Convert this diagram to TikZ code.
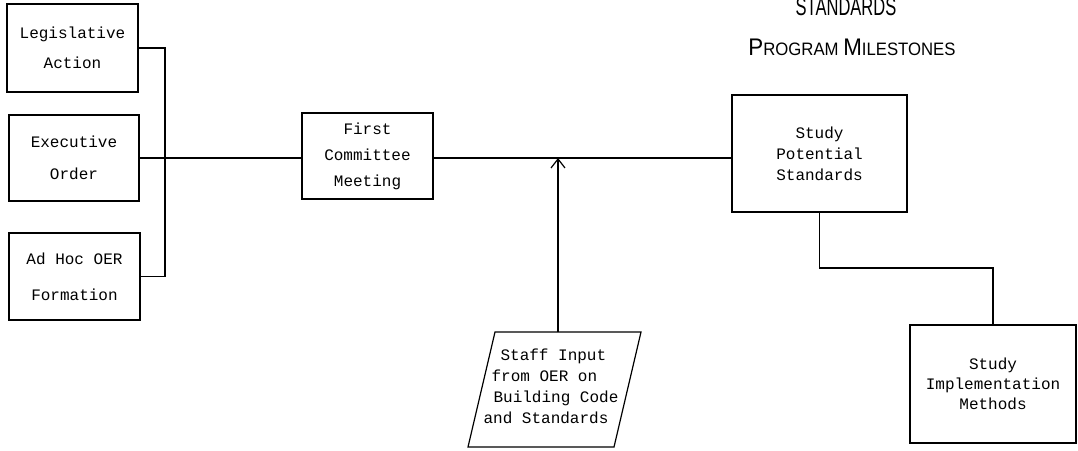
\documentclass[tikz,border=0pt]{standalone}
\usepackage{fontspec}
\setmonofont{Liberation Mono}
\setsansfont{Liberation Sans}
\usetikzlibrary{arrows.meta,calc}

% typewriter text at 16pt with a given leading
\newcommand\monoset[1]{\ttfamily\fontsize{16}{#1}\selectfont}

\tikzset{
  wire/.style={line width=1.2pt, line join=miter},
  box/.style={draw, wire, rectangle, inner sep=0pt, align=center},
  lead/.style={wire, -{Straight Barb[length=9pt,width=14pt,line width=1.2pt]}},
  heading/.style={anchor=base, inner sep=0pt},
}

\begin{document}
\begin{tikzpicture}[x=1pt, y=-1pt]
  \useasboundingbox (0,0) rectangle (1078,450);

  % heading
  \node[heading] (std) at (846,15)
    {\scalebox{0.66}[1]{\sffamily\fontsize{25}{25}\selectfont STANDARDS}};
  \node[heading] (pm) at (852,55)
    {\scalebox{0.93}[1]{\sffamily\fontsize{24}{24}\selectfont P\fontsize{18}{18}\selectfont ROGRAM
     \fontsize{24}{24}\selectfont M\fontsize{18}{18}\selectfont ILESTONES}};

  % sources
  \node[box, minimum width=131pt, minimum height=88pt, font=\monoset{30}]
    (leg) at (72.5,48) {Legislative\\Action};
  \node[box, minimum width=130pt, minimum height=86pt, font=\monoset{32}]
    (exe) at (74,158) {Executive\\Order};
  \node[box, minimum width=131pt, minimum height=87pt, font=\monoset{36}]
    (adhoc) at (74.5,276.5) {Ad Hoc OER\\Formation};

  % milestones
  \node[box, minimum width=131pt, minimum height=86pt, font=\monoset{26}]
    (first) at (367.5,156) {First\\Committee\\Meeting};
  \node[box, minimum width=175pt, minimum height=117pt, font=\monoset{21}]
    (study) at (819.5,153.5) {Study\\Potential\\Standards};
  \node[box, minimum width=166pt, minimum height=118pt, font=\monoset{20}]
    (impl) at (993,384) {Study\\Implementation\\Methods};

  % staff input (slanted input box)
  \node[inner sep=0pt, align=left, font=\monoset{21}] (staff) at (551,386)
    {\hspace*{17pt}Staff Input\\
     \hspace*{8pt}from OER on\\
     \hspace*{10pt}Building Code\\
     and Standards};
  \draw[wire] ($(staff.center)+(-56,-54)$) -- ($(staff.center)+(90,-54)$)
    -- ($(staff.center)+(63,61)$) -- ($(staff.center)+(-83,61)$) -- cycle;

  % connectors
  \coordinate (jn) at (165,158);
  \draw[wire] (leg.east) -| (jn) |- (adhoc.east);
  \draw[wire] (exe.east) -- (jn) -- (jn -| first.west);
  \draw[wire] (first.east |- jn) -- (jn -| study.west);

  \coordinate (sin) at ($(staff.center)+(7,-54)$);
  \draw[lead] (sin) -- (sin |- jn);

  \coordinate (turn) at (993,268);
  \draw[wire] (study.south) |- (turn) -- (impl.north);
\end{tikzpicture}
\end{document}
